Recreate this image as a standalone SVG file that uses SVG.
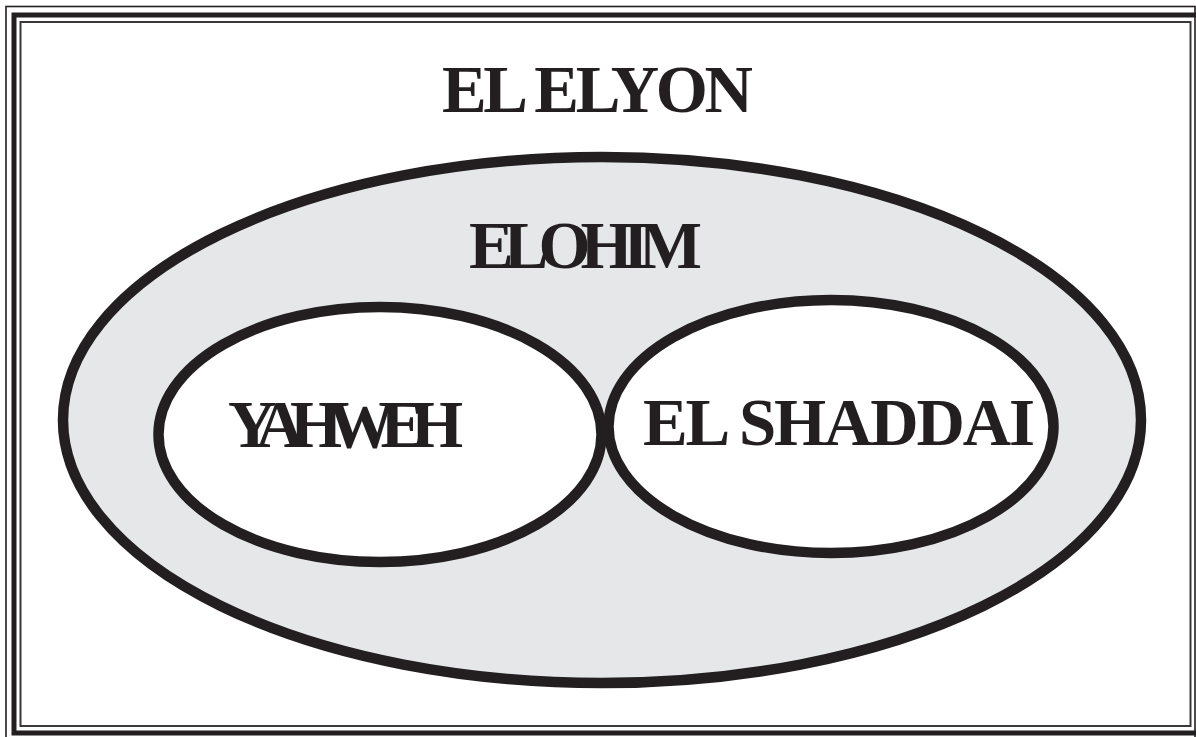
<svg xmlns="http://www.w3.org/2000/svg" width="1196" height="737" viewBox="0 0 1196 737">
  <style>
    .frame-thin { fill: none; stroke: #231f20; stroke-width: 1.6; }
    .frame-thick { fill: none; stroke: #231f20; stroke-width: 5; }
    .frame-inner { fill: none; stroke: #3a3839; stroke-width: 2; }
    .region { stroke: #231f20; stroke-width: 10.5; }
    .outer { fill: #e6e7e9; }
    .inner { fill: #ffffff; }
    .label { font-family: "Liberation Serif", "Times New Roman", serif; font-weight: bold; font-size: 67px; fill: #231f20; }
  </style>
  <rect width="1196" height="737" fill="#ffffff"/>
  <g id="el-elyon">
    <rect class="frame-thin" x="6" y="6.5" width="1189" height="740"/>
    <rect class="frame-thick" x="14" y="15" width="1200" height="718"/>
    <rect class="frame-inner" x="20.5" y="22" width="1170" height="704"/>
    <text class="label" x="442" y="112" textLength="311">EL ELYON</text>
  </g>
  <g id="elohim">
    <ellipse class="region outer" cx="602" cy="420" rx="539" ry="263"/>
    <text class="label" x="469" y="268" textLength="233">ELOHIM</text>
  </g>
  <g id="yahweh">
    <ellipse class="region inner" cx="380" cy="434.5" rx="221.5" ry="127.5"/>
    <text class="label" x="228" y="447" textLength="235">YAHWEH</text>
  </g>
  <g id="el-shaddai">
    <ellipse class="region inner" cx="831" cy="426.5" rx="222.5" ry="126.5"/>
    <text class="label" x="643" y="445" textLength="392">EL SHADDAI</text>
  </g>
  <g id="connectors"/>
</svg>
